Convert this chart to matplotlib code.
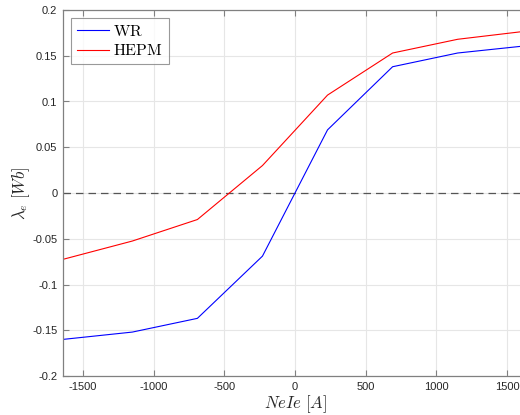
import numpy as np
import matplotlib
matplotlib.use("Agg")
import matplotlib.pyplot as plt

plt.rcParams["mathtext.fontset"] = "cm"
plt.rcParams["font.family"] = ["Liberation Sans", "DejaVu Sans"]

# excitation MMF [A] and flux linkage [Wb]
nele = [-1640, -1150, -690, -230, 230, 690, 1150, 1640]
wr = [-0.160, -0.152, -0.137, -0.069, 0.069, 0.138, 0.153, 0.161]
hepm = [-0.0725, -0.0525, -0.029, 0.030, 0.107, 0.153, 0.168, 0.177]

xticks = [-1500, -1000, -500, 0, 500, 1000, 1500]
yticks = [-0.2, -0.15, -0.1, -0.05, 0, 0.05, 0.1, 0.15, 0.2]
ytick_labels = ["-0.2", "-0.15", "-0.1", "-0.05", "0", "0.05", "0.1", "0.15", "0.2"]

fig = plt.figure(figsize=(5.2, 4.15), dpi=100)
ax = fig.add_axes([63 / 520, 39 / 415, (527 - 63) / 520, 366 / 415])

ax.plot(nele, wr, color="#0000ff", lw=0.8, label=r"$\mathrm{WR}$")
ax.plot(nele, hepm, color="#ff0000", lw=0.8, label=r"$\mathrm{HEPM}$")
ax.axhline(0, color="#555555", lw=0.9, ls=(0, (6, 4)), zorder=1)

ax.set_xlim(-1640, 1640)
ax.set_ylim(-0.2, 0.2)
ax.set_xticks(xticks)
ax.set_xticklabels([str(t) for t in xticks])
ax.set_yticks(yticks)
ax.set_yticklabels(ytick_labels)

ax.grid(True, color="#e6e6e6", lw=0.8)
ax.set_axisbelow(True)
ax.tick_params(direction="in", length=4, width=0.8, colors="#808080",
               labelcolor="#262626", labelsize=8, top=True, right=True, pad=4)
for s in ax.spines.values():
    s.set_color("#808080")
    s.set_linewidth(0.9)

ax.set_xlabel(r"$NeIe\ [A]$", fontsize=12, color="#262626", labelpad=1)
ax.set_ylabel(r"$\lambda_e\ [Wb]$", fontsize=12, color="#262626", labelpad=0)

leg = ax.legend(loc="upper left", fontsize=11.5, frameon=True, fancybox=False,
                edgecolor="#808080", handlelength=2.0, borderpad=0.35,
                labelspacing=0.3, handletextpad=0.3, borderaxespad=0.5)
leg.get_frame().set_linewidth(0.8)

fig.savefig("out.png", dpi=100)
